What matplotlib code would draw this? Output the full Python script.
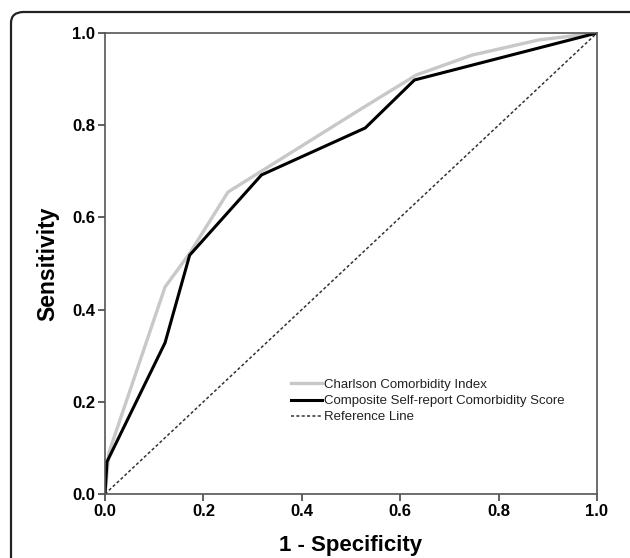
import numpy as np
import matplotlib.pyplot as plt
from matplotlib.patches import FancyBboxPatch

# ROC curve vertices
charlson_x = [0.0, 0.008, 0.122, 0.172, 0.25, 0.52, 0.633, 0.746, 0.882, 1.0]
charlson_y = [0.0, 0.09, 0.449, 0.522, 0.655, 0.835, 0.909, 0.952, 0.985, 1.0]

composite_x = [0.0, 0.004, 0.122, 0.172, 0.318, 0.529, 0.629, 1.0]
composite_y = [0.0, 0.07, 0.328, 0.518, 0.692, 0.794, 0.898, 1.0]

ref_x = [0.0, 1.0]
ref_y = [0.0, 1.0]

ticks = [0.0, 0.2, 0.4, 0.6, 0.8, 1.0]

plt.rcParams['font.family'] = ['Liberation Sans', 'DejaVu Sans']

fig = plt.figure(figsize=(6.3, 5.58), dpi=100)
ax = fig.add_axes([0.1667, 0.1147, 0.7809, 0.8262])

# rounded frame around the whole figure
frame = FancyBboxPatch((11/630, -0.2), 640/630, 1 - 12/558 + 0.2,
                       boxstyle='round,pad=0,rounding_size=0.02',
                       transform=fig.transFigure, fill=False,
                       ec='#222222', lw=1.6, clip_on=False)
fig.patches.append(frame)

ax.plot(charlson_x, charlson_y, color='#c8c8c8', lw=2.4, label='Charlson Comorbidity Index')
ax.plot(composite_x, composite_y, color='black', lw=2.2, label='Composite Self-report Comorbidity Score')
ax.plot(ref_x, ref_y, color='#333333', lw=1.1, ls=(0, (2, 1.5)), label='Reference Line')

ax.set_xlim(0, 1)
ax.set_ylim(0, 1)
ax.set_xticks(ticks)
ax.set_yticks(ticks)
ax.set_xticklabels(['{:.1f}'.format(t) for t in ticks], fontsize=12, fontweight='bold')
ax.set_yticklabels(['{:.1f}'.format(t) for t in ticks], fontsize=12, fontweight='bold')
ax.tick_params(direction='out', length=5, width=1.2, color='#444444', pad=2)
for s in ax.spines.values():
    s.set_color('#555555')
    s.set_linewidth(1.2)

ax.set_xlabel('1 - Specificity', fontsize=16, fontweight='bold', labelpad=11.5)
ax.set_ylabel('Sensitivity', fontsize=16.5, fontweight='bold', labelpad=9)

leg = ax.legend(loc='upper left', bbox_to_anchor=(0.379, 0.25), frameon=False,
                fontsize=9.5, handlelength=2.3, handletextpad=0.15, labelspacing=0.3,
                borderaxespad=0, borderpad=0)
for t in leg.get_texts():
    t.set_color('#222222')

plt.savefig('out.png', dpi=100)
